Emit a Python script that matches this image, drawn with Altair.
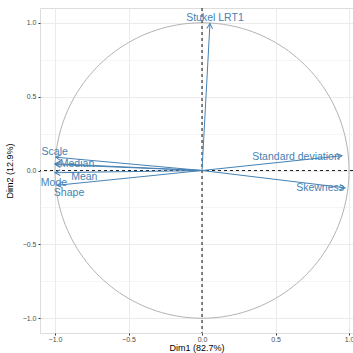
import altair as alt
import pandas as pd

variables = ["Stukel LRT1", "Standard deviation", "Skewness", "Scale", "Median", "Mean", "Mode", "Shape"]
dim1 = [0.054, 0.952, 0.973, -0.995, -1.0, -0.998, -1.0, -0.986]
dim2 = [0.995, 0.100, -0.117, 0.090, 0.046, 0.040, -0.015, -0.100]

x_title = "Dim1 (82.7%)"
y_title = "Dim2 (12.9%)"
grid_values = [-1.0, -0.75, -0.5, -0.25, 0.0, 0.25, 0.5, 0.75, 1.0]

# label placement offsets in pixels (repelled labels)
label_offsets = {
    "Stukel LRT1": (5, -6),
    "Standard deviation": (-46, 1),
    "Skewness": (-25, 0),
    "Scale": (-1, -5),
    "Median": (22, 0),
    "Mean": (29, 12),
    "Mode": (-1, 10),
    "Shape": (12, 8),
}

df = pd.DataFrame({"variable": variables, "dim1": dim1, "dim2": dim2})

STEEL = "#4682B4"
FONT = "Liberation Sans"
major_test = "abs(datum.value*2 - round(datum.value*2)) < 0.001"


def make_axis(title, orient_x=True):
    return alt.Axis(
        values=grid_values,
        title=title,
        labelExpr=f"{major_test} ? format(datum.value, '.1f') : ''",
        tickOpacity={"condition": {"test": major_test, "value": 1}, "value": 0},
        gridWidth={"condition": {"test": major_test, "value": 1}, "value": 0.5},
        gridColor="#EBEBEB",
        domain=False,
        tickSize=2,
        tickColor="#333333",
        labelFontSize=7,
        labelColor="#4D4D4D",
        labelFont=FONT,
        labelPadding=0 if orient_x else 2,
        titleFont=FONT,
        titleFontSize=9,
        titleFontWeight="normal",
        titleColor="#000000",
        titlePadding=1 if orient_x else 8,
    )


xs = alt.Scale(domain=[-1.102, 1.027], nice=False, zero=False)
ys = alt.Scale(domain=[-1.1, 1.1], nice=False, zero=False)

circle = (
    alt.Chart(alt.sequence(0, 361, 2, as_="t"))
    .transform_calculate(cx="cos(datum.t*PI/180)", cy="sin(datum.t*PI/180)")
    .mark_line(color="#B3B3B3", strokeWidth=1, clip=True)
    .encode(
        x=alt.X("cx:Q", scale=xs, axis=make_axis(x_title, True)),
        y=alt.Y("cy:Q", scale=ys, axis=make_axis(y_title, False)),
        order="t:Q",
    )
)

zero_df = pd.DataFrame({"v": [0.0]})
vline = alt.Chart(zero_df).mark_rule(color="#222222", strokeDash=[3, 3], strokeWidth=1.1).encode(x="v:Q")
hline = alt.Chart(zero_df).mark_rule(color="#222222", strokeDash=[3, 3], strokeWidth=1.1).encode(y="v:Q")

arrows = alt.Chart(df).mark_rule(color=STEEL, strokeWidth=1).encode(
    x="dim1:Q", y="dim2:Q", x2=alt.datum(0), y2=alt.datum(0)
)

heads = (
    alt.Chart(df)
    .transform_calculate(ang="(atan2(datum.dim1, datum.dim2)*180/PI + 360) % 360")
    .mark_point(shape="M -0.55 1 L 0 0 L 0.55 1", filled=False, size=110, strokeWidth=1, color=STEEL, opacity=1)
    .encode(x="dim1:Q", y="dim2:Q", angle=alt.Angle("ang:Q", scale=None))
)

labels = []
for name, (dx, dy) in label_offsets.items():
    labels.append(
        alt.Chart(df)
        .transform_filter(alt.datum.variable == name)
        .mark_text(color=STEEL, font=FONT, fontSize=10.5, dx=dx, dy=dy, align="center", baseline="middle")
        .encode(x="dim1:Q", y="dim2:Q", text="variable:N")
    )

chart = (
    alt.layer(circle, vline, hline, arrows, heads, *labels)
    .properties(
        width=313,
        height=325,
        autosize=alt.AutoSizeParams(type="none"),
        padding={"left": 40, "top": 8, "right": 0, "bottom": 20},
    )
    .configure_view(stroke=None)
    .configure(background="white")
)

chart.save("out.html", embed_options={"renderer": "svg", "actions": False})
